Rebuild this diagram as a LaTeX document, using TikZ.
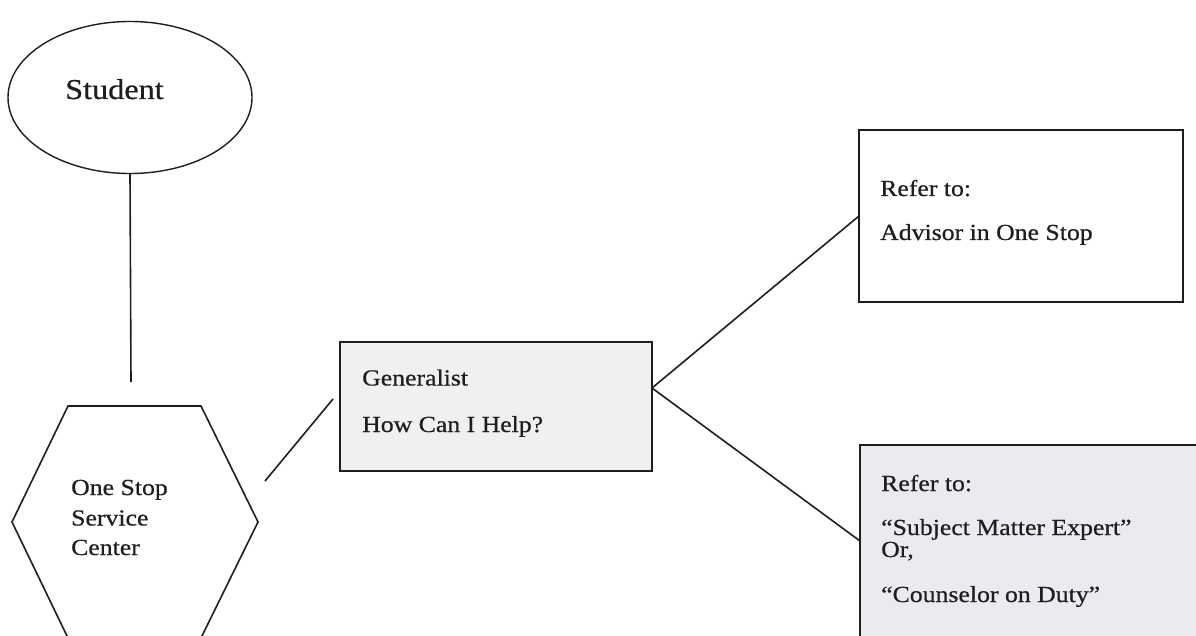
\documentclass[tikz,border=0pt]{standalone}
\usepackage{fontspec}
\setmainfont{Liberation Serif}[FakeStretch=1.12,FakeBold=0.6]
\usetikzlibrary{shapes.geometric}
\definecolor{ink}{HTML}{1E1E1E}
\definecolor{genfill}{HTML}{F0EFF2}
\definecolor{smefill}{HTML}{EBEAEE}
\begin{document}
\begin{tikzpicture}[x=1pt,y=-1pt,
  edge/.style={draw=ink,line width=1.6pt},
  frame/.style={draw=ink,line width=1.6pt,rectangle,inner sep=0pt},
  txt/.style={anchor=base west,inner sep=0pt,text=ink,font=\fontsize{23}{26}\selectfont},
  bigtxt/.style={txt,font=\fontsize{28.8}{32}\selectfont},
]
\useasboundingbox (0,0) rectangle (1196,636);

% Student ellipse
\node[draw=ink,line width=1.4pt,ellipse,inner sep=0pt,minimum width=244pt,minimum height=152pt] (student) at (130,97.5) {};
\node[bigtxt] (studenttxt) at (65,99) {Student};

% One Stop Service Center hexagon
\coordinate (hexc) at (135,522);
\draw[edge,line join=miter] (68,406) -- (201,406) -- (258,522) -- (201,638) -- (68,638) -- (12,522) -- cycle;
\node[txt] (hex1) at (71,495) {One Stop};
\node[txt] (hex2) at (71,525.5) {Service};
\node[txt] (hex3) at (71,555) {Center};

% Generalist box
\node[frame,fill=genfill,minimum width=312pt,minimum height=129pt] (gen) at (496,406.5) {};
\node[txt] (gen1) at (362,385.5) {Generalist};
\node[txt] (gen2) at (362,432) {How Can I Help?};

% Advisor box
\node[frame,fill=white,minimum width=324pt,minimum height=172pt] (adv) at (1021,216) {};
\node[txt] (adv1) at (880,196) {Refer to:};
\node[txt] (adv2) at (880,240) {Advisor in One Stop};

% Subject matter expert box (runs off the page edge)
\node[frame,fill=smefill,minimum width=350pt,minimum height=205pt] (sme) at (1035,547.5) {};
\node[txt] (sme1) at (881,491) {Refer to:};
\node[txt] (sme2) at (881,535) {“Subject Matter Expert”};
\node[txt] (sme3) at (881,557) {Or,};
\node[txt] (sme4) at (881,602) {“Counselor on Duty”};

% Connectors
\coordinate (studentend) at (131,382);
\draw[edge] (student.south) -- (studentend);

\coordinate (hexout) at (265,481);
\coordinate (genin) at (333,399);
\draw[edge] (hexout) -- (genin);

\coordinate (genout) at (652,388);
\coordinate (advin) at (859,216);
\coordinate (smein) at (860,541);
\draw[edge] (genout) -- (advin);
\draw[edge] (genout) -- (smein);
\end{tikzpicture}
\end{document}
